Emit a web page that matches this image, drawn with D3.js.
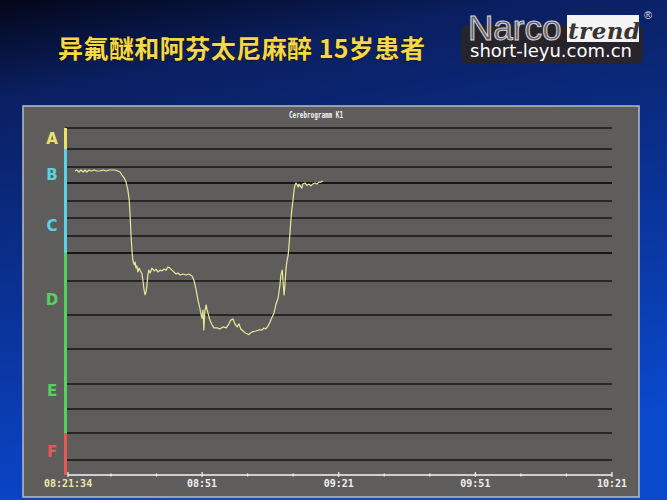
<!DOCTYPE html>
<html><head><meta charset="utf-8">
<script src="https://cdn.jsdelivr.net/npm/d3@7"></script>
<style>html,body{margin:0;padding:0;background:#0a1a55;}svg{display:block;}</style>
</head><body>
<script>
// ---- data ----
const stageLabels = ["A","B","C","D","E","F"];
const stageColors = ["#e8e070","#5fd0e0","#5fd0e0","#58d060","#58d060","#e05a5a"];
// Narcotrend index boundaries (top to bottom)
const indexBounds = [100,95,90,85,80,75,70,65,57,47,37,27,20,13,5,0];
const barGroups = [{from:100,to:95,c:"#e8e070"},{from:95,to:65,c:"#5fd0e0"},{from:65,to:13,c:"#58d060"},{from:13,to:0,c:"#e05a5a"}];
const labelIndex = [97.6,87.8,72.8,51.7,25.3,7.4];
// time in minutes after 08:00
const timeStart = 21 + 34/60, timeEnd = 141;
const majorTicks = [timeStart, 51, 81, 111, 141];
const majorTickLabels = ["08:21:34","08:51","09:21","09:51","10:21"];
const minorTicks = [31,41,61,71,91,101,121,131];
const tMin = [23.1,23.5,24.0,24.4,24.9,25.3,25.7,26.2,26.6,27.3,27.9,28.6,29.3,29.9,30.6,31.2,31.9,32.5,33.0,33.4,33.9,34.3,34.5,34.7,35.0,35.2,35.4,35.6,35.8,36.1,36.3,36.5,36.7,36.9,37.2,37.4,37.8,38.0,38.3,38.5,38.7,38.9,39.1,39.3,39.6,40.0,40.5,40.9,41.3,41.8,42.2,42.6,43.1,43.5,43.9,44.4,44.8,45.3,45.7,46.2,46.8,47.5,48.1,48.8,49.2,49.7,50.1,50.5,50.8,51.0,51.2,51.4,51.6,51.9,52.1,52.3,52.7,53.2,53.6,54.3,54.9,55.6,56.3,56.9,57.3,57.8,58.2,58.7,59.1,59.5,60.0,60.4,60.9,61.3,61.7,62.2,62.8,63.5,64.2,64.6,65.0,65.5,65.9,66.3,66.8,67.2,67.7,68.1,68.3,68.6,68.8,69.0,69.2,69.4,69.6,69.9,70.1,70.3,70.5,70.7,71.0,71.2,71.4,71.6,71.8,72.1,72.3,72.5,72.9,73.1,73.6,74.0,74.5,74.9,75.3,75.8,76.2,76.7,77.1,77.5];
const ntIndex = [88.75,89.06,88.44,89.06,88.44,89.06,88.44,89.06,88.75,89.06,88.75,88.75,89.06,88.75,89.06,89.06,89.06,88.75,88.44,87.5,86.6,85.3,84.2,83.1,80.3,75.9,70.3,65.9,63.0,61.6,62.4,60.7,61.3,59.6,60.7,60.1,59.0,57.3,54.1,52.9,53.8,55.8,58.7,60.1,59.3,60.7,59.9,60.4,59.6,60.1,59.9,60.4,60.1,61.0,60.7,60.1,59.6,59.0,59.3,58.7,59.0,58.7,59.0,58.4,57.3,54.4,51.4,49.1,47.0,46.1,48.5,42.6,47.9,50.0,48.5,47.6,45.5,44.1,43.2,43.2,42.9,43.5,43.2,44.4,45.5,45.8,44.4,43.5,44.4,42.9,42.3,41.8,41.5,41.2,41.8,42.1,42.3,42.6,42.6,43.2,42.9,43.8,44.9,46.1,47.6,50.0,52.0,55.8,58.7,60.1,56.7,52.9,55.8,60.1,62.4,64.4,67.4,70.8,74.4,77.4,80.6,83.1,84.4,85.0,84.7,83.9,84.7,84.2,83.6,84.7,85.0,84.4,84.7,84.2,84.7,85.0,84.7,85.3,85.3,85.6];

const W = 667, H = 500;
const svg = d3.select("body").append("svg").attr("width", W).attr("height", H);
const defs = svg.append("defs");
const bg = defs.append("linearGradient").attr("id","bg").attr("x1",0).attr("y1",0).attr("x2",0.25).attr("y2",1);
bg.append("stop").attr("offset","0%").attr("stop-color","#04061a");
bg.append("stop").attr("offset","18%").attr("stop-color","#0a1f60");
bg.append("stop").attr("offset","60%").attr("stop-color","#0a3398");
bg.append("stop").attr("offset","100%").attr("stop-color","#0a48cc");
svg.append("rect").attr("width",W).attr("height",H).attr("fill","url(#bg)");

// title
svg.append("text").attr("x",58).attr("y",58)
  .attr("font-family","'Noto Sans CJK SC', sans-serif").attr("font-weight",700)
  .attr("font-size",25).attr("fill","#f2d84a").attr("textLength",367)
  .style("paint-order","stroke").attr("stroke","#1a1405").attr("stroke-width",1.2)
  .text("异氟醚和阿芬太尼麻醉 15岁患者");

// watermark
const wm = svg.append("g");
wm.append("rect").attr("x",461).attr("y",25).attr("width",182).attr("height",39).attr("rx",6)
  .attr("fill","#2a2426").attr("opacity",0.92);
wm.append("rect").attr("x",567).attr("y",15).attr("width",72).attr("height",27).attr("fill","#f4f4f4");
wm.append("text").attr("x",468).attr("y",40).attr("font-family","'Liberation Sans', Arial, sans-serif")
  .attr("font-size",35).attr("fill","#6a6668").attr("stroke","#e8e8e8").attr("stroke-width",1).attr("opacity",0.9).text("Narco");
wm.append("text").attr("x",568).attr("y",39).attr("font-family","'DejaVu Serif', serif").attr("font-style","italic")
  .attr("font-weight",700).attr("font-size",23).attr("fill","#3a3436").attr("textLength",72).text("trend");
wm.append("text").attr("x",648).attr("y",19).attr("text-anchor","middle").attr("font-family","'Liberation Sans',sans-serif")
  .attr("font-size",11).attr("fill","#dddddd").text("®");
wm.append("text").attr("x",470).attr("y",57).attr("font-family","'DejaVu Sans', sans-serif")
  .attr("font-size",18).attr("fill","#ffffff").attr("textLength",162).text("short-leyu.com.cn");

// panel
svg.append("rect").attr("x",23).attr("y",106).attr("width",616).attr("height",391)
  .attr("fill","#5f5d5c").attr("stroke","#b4bccb").attr("stroke-width",1.5);
svg.append("text").attr("x",289).attr("y",118)
  .attr("font-family","'DejaVu Sans Mono', monospace").attr("font-weight",700).attr("font-size",8).attr("fill","#f4f4f4")
  .attr("textLength",54).attr("lengthAdjust","spacingAndGlyphs").text("Cerebrogramm K1");

// scales
const yPix = [128,149,167,183,201,218,236,253,281,315,349,384,409,433,460,475];
const y = d3.scaleLinear().domain(indexBounds).range(yPix);
const x = d3.scaleLinear().domain([timeStart, timeEnd]).range([68, 612]);

// grid lines
svg.append("g").selectAll("line").data(indexBounds.slice(0,-1)).join("line")
  .attr("x1",65).attr("x2",612).attr("y1",d=>y(d)).attr("y2",d=>y(d))
  .attr("stroke","#161616").attr("stroke-width",d=>(d===85||d===65)?2:1.5);

// colour bars
svg.append("g").selectAll("rect").data(barGroups).join("rect")
  .attr("x",64).attr("width",3).attr("y",d=>y(d.from)).attr("height",d=>y(d.to)-y(d.from)).attr("fill",d=>d.c);

// stage labels
svg.append("g").selectAll("text").data(stageLabels).join("text")
  .attr("x",52).attr("y",(d,i)=>y(labelIndex[i])+5.5).attr("text-anchor","middle")
  .attr("font-family","'DejaVu Sans', sans-serif").attr("font-weight",700).attr("font-size",15)
  .attr("fill",(d,i)=>stageColors[i]).text(d=>d);

// x axis
const ax = svg.append("g").attr("transform","translate(0,475)");
ax.append("line").attr("x1",x(timeStart)).attr("x2",x(timeEnd)).attr("stroke","#f4f4f4").attr("stroke-width",1.5);
ax.selectAll("line.minor").data(minorTicks).join("line").attr("class","minor")
  .attr("x1",d=>x(d)).attr("x2",d=>x(d)).attr("y1",-1.5).attr("y2",1.5).attr("stroke","#f4f4f4").attr("stroke-width",1.2);
ax.selectAll("line.major").data(majorTicks).join("line").attr("class","major")
  .attr("x1",d=>x(d)).attr("x2",d=>x(d)).attr("y1",-3).attr("y2",2).attr("stroke","#f4f4f4").attr("stroke-width",1.2);
ax.selectAll("text").data(majorTicks).join("text")
  .attr("x",(d,i)=> i===0 ? x(d)-24 : x(d)).attr("y",12)
  .attr("text-anchor",(d,i)=> i===0 ? "start" : "middle")
  .attr("font-family","'DejaVu Sans Mono', monospace").attr("font-weight",700).attr("font-size",10)
  .attr("fill",(d,i)=> i===0 ? "#ece6a8" : "#f0f0f0").text((d,i)=>majorTickLabels[i]);

// curve
const pts = tMin.map((t,i)=>[t, ntIndex[i]]);
svg.append("path").datum(pts)
  .attr("d", d3.line().x(d=>x(d[0])).y(d=>y(d[1])))
  .attr("fill","none").attr("stroke","#e6e89a").attr("stroke-width",1.2).attr("stroke-linejoin","round");
</script>
</body></html>
